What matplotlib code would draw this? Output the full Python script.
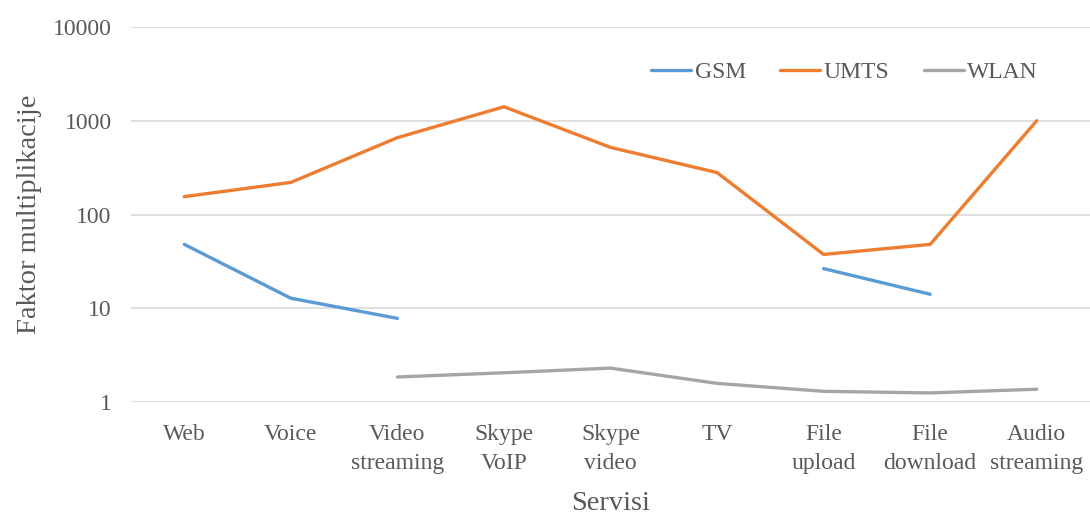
import numpy as np
import matplotlib
matplotlib.use("Agg")
import matplotlib.pyplot as plt

plt.rcParams['font.family'] = ['Liberation Serif', 'DejaVu Serif']

# services on the x axis
servisi = ["Web", "Voice", "Video\nstreaming", "Skype\nVoIP", "Skype\nvideo",
           "TV", "File\nupload", "File\ndownload", "Audio\nstreaming"]

# multiplication factor per network (nan = no value)
gsm = [48, 12.8, 7.8, np.nan, np.nan, np.nan, 26.5, 14.1, np.nan]
umts = [155, 220, 660, 1410, 520, 280, 37.5, 48, 1000]
wlan = [np.nan, np.nan, 1.85, 2.05, 2.3, 1.58, 1.3, 1.25, 1.37]

text_col = '#595959'

fig = plt.figure(figsize=(10.9, 5.19), dpi=100)
ax = fig.add_axes([0.1202, 0.2254, 0.8798, 0.7226])

x = np.arange(len(servisi))
ax.plot(x, gsm, color='#5B9BD5', lw=2.4, label='GSM', solid_capstyle='round')
ax.plot(x, umts, color='#ED7D31', lw=2.4, label='UMTS', solid_capstyle='round')
ax.plot(x, wlan, color='#A5A5A5', lw=2.4, label='WLAN', solid_capstyle='round')

ax.set_yscale('log')
ax.set_ylim(1, 10000)
ax.set_xlim(-0.5, len(servisi) - 0.5)
ax.set_yticks([1, 10, 100, 1000, 10000])
ax.set_yticklabels(['1', '10', '100', '1000', '10000'])
ax.minorticks_off()
ax.set_xticks(x)
ax.set_xticklabels(servisi, linespacing=1.5)
ax.tick_params(length=0, labelsize=17, colors=text_col, pad=16)
ax.tick_params(axis='y', pad=14)
ax.grid(axis='y', color='#D9D9D9', lw=1.2)
ax.set_axisbelow(True)
for s in ax.spines.values():
    s.set_visible(False)

ax.set_ylabel('Faktor multiplikacije', fontsize=20.5, color=text_col, labelpad=8)
ax.set_xlabel('Servisi', fontsize=20.5, color=text_col, labelpad=12)

leg = ax.legend(loc='upper right', ncol=3, frameon=False, fontsize=17,
                bbox_to_anchor=(0.968, 0.965), handlelength=1.7, handletextpad=0.15,
                columnspacing=1.45, labelcolor=text_col)

fig.savefig('out.png', dpi=100)
